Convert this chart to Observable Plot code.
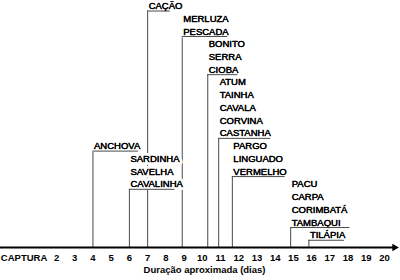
<!DOCTYPE html>
<html><head><meta charset="utf-8">
<script src="https://cdn.jsdelivr.net/npm/d3@7"></script>
<script src="https://cdn.jsdelivr.net/npm/@observablehq/plot@0.6"></script>
<style>body{margin:0;background:#fff}</style>
</head><body><div id="chart"></div>
<script>
// Fish groups (names stacked top to bottom), start/end of each group's bracket (days),
// and the level (counted up from the axis) where the first name of the group sits.
const groupNames = [
  ["ANCHOVA"],
  ["SARDINHA", "SAVELHA", "CAVALINHA"],
  ["CAÇÃO"],
  ["MERLUZA", "PESCADA"],
  ["BONITO", "SERRA", "CIOBA"],
  ["ATUM", "TAINHA", "CAVALA", "CORVINA", "CASTANHA"],
  ["PARGO", "LINGUADO", "VERMELHO"],
  ["PACU", "CARPA", "CORIMBATÁ", "TAMBAQUI"],
  ["TILÁPIA"]
];
const groupStart = [4, 6, 7, 8.9, 10.3, 10.9, 11.65, 14.85, 15.85];
const groupEnd   = [6.5, 8.5, 8.25, 11.4, 11.95, 13.75, 14.55, 18.1, 17.8];
const groupTopLevel = [8, 7, 19, 18, 16, 13, 8, 5, 1];
const tickValues = [2, 3, 4, 5, 6, 7, 8, 9, 10, 11, 12, 13, 14, 15, 16, 17, 18, 19, 20];
const axisStartLabel = "CAPTURA";
const axisStartValue = 1;
const axisTitle = "Duração aproximada (dias)";

const groups = groupNames.map((names, i) => ({
  start: groupStart[i], end: groupEnd[i], last: groupTopLevel[i] - (names.length - 1)
}));
const labels = groupNames.flatMap((names, i) =>
  names.map((name, j) => ({name, x: groupStart[i], level: groupTopLevel[i] - j})));

const lineColor = "#4a4a4a";
const chart = Plot.plot({
  width: 400, height: 280,
  marginLeft: 0, marginRight: 6, marginTop: 0, marginBottom: 33,
  x: {domain: [1, 20], range: [37.8, 384]},
  y: {domain: [0, 19], range: [247.5, 5.5], axis: null},
  style: {fontFamily: "'Liberation Sans', Arial, sans-serif", fontSize: "9.5px", color: "black", background: "white"},
  marks: [
    Plot.ruleX(groups, {x: "start", y: d => d.last - 0.39, stroke: lineColor, strokeWidth: 1}),
    Plot.text(labels, {x: "x", y: "level", text: "name", textAnchor: "start", dx: 1,
      fill: "black", stroke: "white", strokeWidth: 6, fontSize: 9.5}),
    Plot.text(labels, {x: "x", y: "level", text: "name", textAnchor: "start", dx: 1,
      fill: "black", stroke: "black", strokeWidth: 0.3, fontSize: 9.5}),
    Plot.ruleY(groups, {x1: "start", x2: "end", y: "last", dy: 5, stroke: lineColor, strokeWidth: 1}),
    Plot.frame({anchor: "bottom", stroke: "black", strokeWidth: 2}),
    Plot.dot([0], {frameAnchor: "bottom-right", symbol: "triangle", rotate: 90, r: 2.8, fill: "black", stroke: null}),
    Plot.axisX({ticks: tickValues, tickSize: 0, tickPadding: 7, fontWeight: "bold", fontSize: 9.5, tickFormat: d => String(d), label: null}),
    Plot.text([axisStartLabel], {x: () => axisStartValue, frameAnchor: "bottom", textAnchor: "end", lineAnchor: "top",
      dx: 9, dy: 7, fontWeight: "bold", fontSize: 9.5, fill: "black"}),
    Plot.text([axisTitle], {frameAnchor: "bottom", dx: 7, dy: 25, fontWeight: "bold", fontSize: 9.5, fill: "black"})
  ]
});
document.getElementById("chart").appendChild(chart);
</script>
</body></html>
